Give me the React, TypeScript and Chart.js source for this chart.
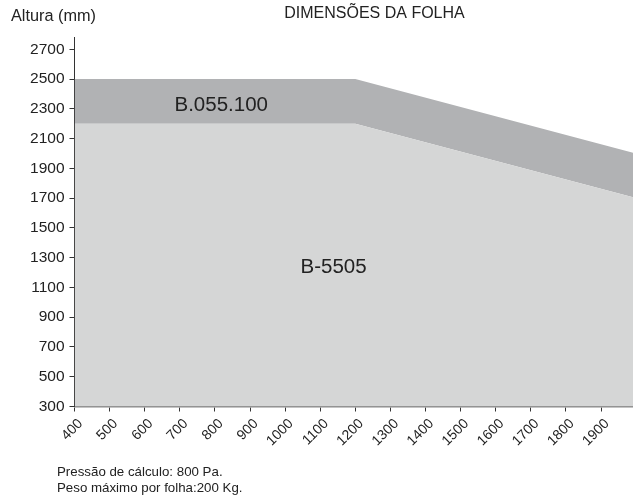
import React, { useEffect, useRef } from "react";
import { Chart, registerables } from "chart.js";

Chart.register(...registerables);

const xValues = [400, 1200, 2000];
const seriesB5505 = [2200, 2200, 1700];
const seriesB055100 = [2500, 2500, 2000];
const xTickValues = [400, 500, 600, 700, 800, 900, 1000, 1100, 1200, 1300, 1400, 1500, 1600, 1700, 1800, 1900];
const yTickValues = [300, 500, 700, 900, 1100, 1300, 1500, 1700, 1900, 2100, 2300, 2500, 2700];
const seriesNames = ["B-5505", "B.055.100"];
const labelAnchors = [
  { x: 1138, y: 1236 },
  { x: 818, y: 2326 },
];
const titleText = "DIMENSÕES DA FOLHA";
const yAxisTitle = "Altura (mm)";
const footerLines = ["Pressão de cálculo: 800 Pa.", "Peso máximo por folha:200 Kg."];

const FONT = "'Liberation Sans', Arial, Helvetica, sans-serif";
const TEXT = "#222222";

const textPlugin = {
  id: "texts",
  afterDraw(chart: any) {
    const ctx = chart.ctx;
    const xs = chart.scales.x;
    const ys = chart.scales.y;
    ctx.save();
    ctx.fillStyle = TEXT;
    ctx.textBaseline = "alphabetic";
    ctx.font = `16px ${FONT}`;
    ctx.textAlign = "center";
    ctx.fillText(titleText, 374.5, 18.3);
    ctx.textAlign = "left";
    ctx.font = `16.3px ${FONT}`;
    ctx.fillText(yAxisTitle, 11, 21);
    ctx.font = `20.5px ${FONT}`;
    ctx.textAlign = "center";
    ctx.textBaseline = "middle";
    labelAnchors.forEach((a, i) => {
      ctx.fillText(seriesNames[i], xs.getPixelForValue(a.x), ys.getPixelForValue(a.y));
    });
    ctx.textBaseline = "alphabetic";
    ctx.textAlign = "left";
    ctx.font = `13.3px ${FONT}`;
    ctx.fillText(footerLines[0], 57, 475.5);
    ctx.fillText(footerLines[1], 57, 492);
    ctx.restore();
  },
};

export default function App() {
  const ref = useRef<HTMLCanvasElement>(null);
  useEffect(() => {
    if (!ref.current) return;
    const chart = new Chart(ref.current, {
      type: "line",
      data: {
        datasets: [
          {
            label: seriesNames[0],
            data: xValues.map((x, i) => ({ x, y: seriesB5505[i] })),
            fill: "start",
            backgroundColor: "#d5d6d6",
            borderWidth: 0,
            pointRadius: 0,
            tension: 0,
          },
          {
            label: seriesNames[1],
            data: xValues.map((x, i) => ({ x, y: seriesB055100[i] })),
            fill: "-1",
            backgroundColor: "#b1b2b4",
            borderWidth: 0,
            pointRadius: 0,
            tension: 0,
          },
        ],
      },
      options: {
        responsive: false,
        animation: false,
        layout: { padding: { top: 37.4, left: 0, right: 0, bottom: 0 } },
        plugins: { legend: { display: false }, tooltip: { enabled: false }, title: { display: false } },
        scales: {
          x: {
            type: "linear",
            min: 400,
            max: 1991,
            afterBuildTicks: (s: any) => {
              s.ticks = xTickValues.map((v) => ({ value: v }));
            },
            afterFit: (s: any) => {
              s.height = 88.5;
            },
            ticks: {
              autoSkip: false,
              minRotation: 45,
              maxRotation: 45,
              color: TEXT,
              font: { family: FONT, size: 14 },
              padding: 4,
              labelOffset: 6,
              callback: (v: any) => String(v),
            },
            grid: { display: true, drawOnChartArea: false, drawTicks: true, tickLength: 5, color: "#333" },
            border: { display: true, color: "#8a8a8a", width: 1.5 },
          },
          y: {
            type: "linear",
            min: 300,
            max: 2780,
            afterBuildTicks: (s: any) => {
              s.ticks = yTickValues.map((v) => ({ value: v }));
            },
            afterFit: (s: any) => {
              s.width = 74.5;
            },
            ticks: {
              autoSkip: false,
              color: TEXT,
              font: { family: FONT, size: 15.5 },
              padding: 5,
              callback: (v: any) => String(v),
            },
            grid: { display: true, drawOnChartArea: false, drawTicks: true, tickLength: 5, color: "#333" },
            border: { display: true, color: "#333", width: 1 },
          },
        },
      },
      plugins: [textPlugin],
    });
    return () => chart.destroy();
  }, []);
  return (
    <div style={{ position: "fixed", left: 0, top: 0, width: 633, height: 495, background: "#fff" }}>
      <canvas ref={ref} width={633} height={495} style={{ display: "block" }} />
    </div>
  );
}
